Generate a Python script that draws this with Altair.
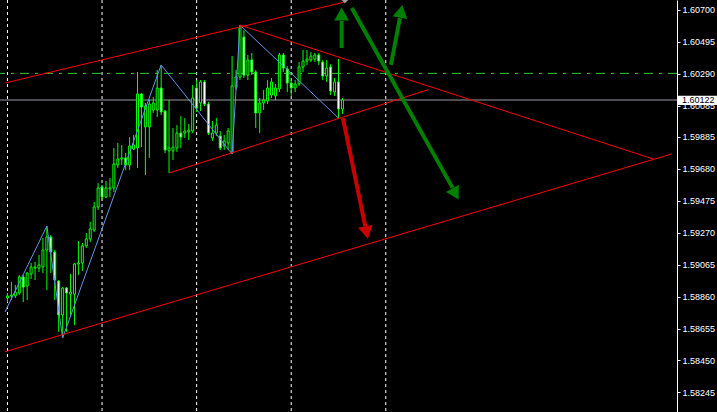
import altair as alt
import pandas as pd

# ---- hourly candles (bar index 0 = oldest) ----
open_ = [1.58851, 1.58864, 1.58864, 1.58883, 1.58986, 1.58928, 1.59005, 1.59043, 1.59043, 1.59050,
         1.59159, 1.59242, 1.59146, 1.58960, 1.58742, 1.58915, 1.58876, 1.58876, 1.59069, 1.59076,
         1.59185, 1.59230, 1.59287, 1.59435, 1.59563, 1.59499, 1.59551, 1.59557, 1.59705, 1.59743,
         1.59750, 1.59705, 1.59807, 1.59814, 1.60161, 1.59949, 1.59949, 1.60058, 1.60058, 1.60199,
         1.60051, 1.59795, 1.59795, 1.59814, 1.59910, 1.59910, 1.59917, 1.59923, 1.60199, 1.60103,
         1.60238, 1.60096, 1.59878, 1.59910, 1.59891, 1.59827, 1.59846, 1.59782, 1.60205, 1.60270,
         1.60526, 1.60282, 1.60379, 1.60302, 1.60039, 1.60103, 1.60116, 1.60154, 1.60148, 1.60193,
         1.60411, 1.60321, 1.60231, 1.60199, 1.60225, 1.60334, 1.60372, 1.60379, 1.60385, 1.60411,
         1.60366, 1.60276, 1.60334, 1.60173, 1.60238, 1.60064]
high = [1.58883, 1.58954, 1.58934, 1.58998, 1.58998, 1.59018, 1.59076, 1.59082, 1.59127, 1.59236,
        1.59313, 1.59255, 1.59159, 1.58966, 1.58921, 1.58921, 1.59005, 1.59076, 1.59217, 1.59204,
        1.59268, 1.59339, 1.59467, 1.59589, 1.59576, 1.59602, 1.59621, 1.59814, 1.59846, 1.59833,
        1.59782, 1.59884, 1.59897, 1.60302, 1.60167, 1.60103, 1.60122, 1.60141, 1.60315, 1.60347,
        1.60058, 1.60122, 1.59942, 1.59961, 1.60019, 1.60006, 1.59968, 1.60218, 1.60250, 1.60250,
        1.60250, 1.60109, 1.59987, 1.60006, 1.59923, 1.59897, 1.59942, 1.60404, 1.60315, 1.60603,
        1.60571, 1.60411, 1.60424, 1.60315, 1.60135, 1.60186, 1.60250, 1.60263, 1.60225, 1.60424,
        1.60424, 1.60340, 1.60250, 1.60250, 1.60366, 1.60443, 1.60443, 1.60430, 1.60424, 1.60424,
        1.60379, 1.60379, 1.60353, 1.60263, 1.60385, 1.60135]
low = [1.58825, 1.58838, 1.58851, 1.58870, 1.58825, 1.58838, 1.58973, 1.58966, 1.59018, 1.59011,
       1.58902, 1.59011, 1.58838, 1.58633, 1.58594, 1.58633, 1.58729, 1.58677, 1.58998, 1.59024,
       1.59172, 1.59210, 1.59275, 1.59416, 1.59480, 1.59493, 1.59499, 1.59531, 1.59685, 1.59705,
       1.59673, 1.59673, 1.59801, 1.59685, 1.59820, 1.59640, 1.59750, 1.60039, 1.60013, 1.60026,
       1.59782, 1.59653, 1.59737, 1.59788, 1.59814, 1.59878, 1.59865, 1.59910, 1.60045, 1.60051,
       1.60083, 1.59897, 1.59859, 1.59891, 1.59801, 1.59801, 1.59801, 1.59775, 1.60186, 1.60250,
       1.60263, 1.60250, 1.60282, 1.59942, 1.59910, 1.60058, 1.60096, 1.60135, 1.60122, 1.60173,
       1.60302, 1.60173, 1.60148, 1.60173, 1.60212, 1.60302, 1.60347, 1.60366, 1.60366, 1.60347,
       1.60250, 1.60238, 1.60154, 1.60148, 1.60006, 1.60032]
close = [1.58864, 1.58870, 1.58889, 1.58986, 1.58921, 1.59011, 1.59050, 1.59050, 1.59063, 1.59159,
         1.59242, 1.59146, 1.58966, 1.58742, 1.58915, 1.58883, 1.58889, 1.59069, 1.59076, 1.59185,
         1.59230, 1.59294, 1.59435, 1.59557, 1.59499, 1.59557, 1.59557, 1.59711, 1.59743, 1.59750,
         1.59705, 1.59827, 1.59833, 1.60161, 1.60077, 1.60083, 1.60096, 1.60103, 1.60199, 1.60045,
         1.59801, 1.59814, 1.59820, 1.59910, 1.59884, 1.59923, 1.59929, 1.60135, 1.60071, 1.60238,
         1.60096, 1.59910, 1.59910, 1.59961, 1.59814, 1.59859, 1.59923, 1.60212, 1.60270, 1.60591,
         1.60282, 1.60379, 1.60302, 1.60039, 1.60103, 1.60122, 1.60199, 1.60238, 1.60199, 1.60411,
         1.60327, 1.60231, 1.60199, 1.60225, 1.60334, 1.60372, 1.60385, 1.60404, 1.60411, 1.60372,
         1.60276, 1.60327, 1.60180, 1.60238, 1.60064, 1.60122]

# ---- price axis and reference levels ----
price_ticks = [1.60700, 1.60495, 1.60290, 1.60085, 1.59885, 1.59680, 1.59475,
               1.59270, 1.59065, 1.58860, 1.58655, 1.58450, 1.58245]
bid_price = 1.60122
bid_label = "1.60122"
level_price = 1.60293
day_separators = [0, 24, 48, 72, 96]

# ---- zigzag swing points ----
zigzag_bar = [-0.625, 10, 14, 39, 57, 59, 84]
zigzag_price = [1.58761, 1.59313, 1.58594, 1.60347, 1.59775, 1.60603, 1.60006]

# ---- trend lines (pairs of end points) ----
trend_id = ["chan_top", "chan_top", "chan_bottom", "chan_bottom",
            "tri_top", "tri_top", "tri_bottom", "tri_bottom"]
trend_bar = [-0.625, 85.625, -0.625, 168.625, 59, 163.95, 41, 106.875]
trend_price = [1.60231, 1.60751, 1.58506, 1.59776, 1.60603, 1.59743, 1.59653, 1.60189]
anchor_bar = [85.625]
anchor_price = [1.60764]

# ---- scenario arrows ----
arrow_color = ["#008000", "#008000", "#008000", "#c80000"]
shaft_bar0 = [84.8, 87.375, 97.3, 85.125]
shaft_price0 = [1.60456, 1.60713, 1.60347, 1.60006]
shaft_bar1 = [84.8, 112.95, 99.575, 90.8]
shaft_price1 = [1.60629, 1.59558, 1.60648, 1.59311]
head_bar = [84.8, 113.7, 99.9, 91.125]
head_price = [1.60674, 1.59519, 1.60691, 1.59271]
head_angle = [0, 150.5, 10.9, 168.3]

LIME = "#00ff00"

candles = pd.DataFrame({
    "bar": list(range(len(open_))),
    "open": open_, "high": high, "low": low, "close": close,
})
candles["fill"] = ["black" if c >= o else "white" for o, c in zip(open_, close)]

zig = pd.DataFrame({"bar": zigzag_bar, "price": zigzag_price, "order": range(len(zigzag_bar))})
trends = pd.DataFrame({"id": trend_id, "bar": trend_bar, "price": trend_price,
                       "order": range(len(trend_id))})
shafts = pd.DataFrame({"b0": shaft_bar0, "p0": shaft_price0, "b1": shaft_bar1,
                       "p1": shaft_price1, "color": arrow_color})
heads = pd.DataFrame({"bar": head_bar, "price": head_price, "angle": head_angle,
                      "color": arrow_color})

xscale = alt.Scale(domain=[-0.625, 168.625], nice=False, zero=False)
yscale = alt.Scale(domain=[1.58119, 1.60764], nice=False, zero=False)
yaxis = alt.Axis(orient="right", values=price_ticks, format=".5f", title=None, grid=False,
                 domainColor="white", tickColor="white", tickSize=3, labelColor="white",
                 labelFont="Liberation Sans", labelFontSize=9, labelPadding=2)


def X(field):
    return alt.X(field, type="quantitative", scale=xscale, axis=None)


def Y(field):
    return alt.Y(field, type="quantitative", scale=yscale, axis=yaxis)


separators = alt.Chart(pd.DataFrame({"bar": day_separators})).mark_rule(
    color="white", strokeDash=[3, 3], strokeWidth=1
).encode(x=X("bar"))

level = alt.Chart(pd.DataFrame({"price": [level_price]})).mark_rule(
    color="#32cd32", strokeDash=[9, 6, 3, 6], strokeWidth=1
).encode(y=Y("price"))

bid_line = alt.Chart(pd.DataFrame({"price": [bid_price]})).mark_rule(
    color="#9a9aa4", strokeWidth=1
).encode(y=Y("price"))

wicks = alt.Chart(candles).mark_rule(color=LIME, strokeWidth=1).encode(
    x=X("bar"), y=Y("low"), y2="high"
)

bodies = alt.Chart(candles).mark_bar(size=2, stroke=LIME, strokeWidth=1).encode(
    x=X("bar"), y=Y("open"), y2="close", fill=alt.Fill("fill:N", scale=None)
)

zigzag = alt.Chart(zig).mark_line(color="#6495ed", strokeWidth=1).encode(
    x=X("bar"), y=Y("price"), order="order:Q"
)

trend_lines = alt.Chart(trends).mark_line(color="#ff0000", strokeWidth=1).encode(
    x=X("bar"), y=Y("price"), detail="id:N", order="order:Q"
)

anchor = alt.Chart(pd.DataFrame({"bar": anchor_bar, "price": anchor_price})).mark_point(
    shape="diamond", filled=True, size=44, color="#a0a0a0", opacity=1, clip=True
).encode(x=X("bar"), y=Y("price"))

arrow_shafts = alt.Chart(shafts).mark_rule(strokeWidth=4, strokeCap="butt").encode(
    x=X("b0"), y=Y("p0"), x2="b1", y2="p1", color=alt.Color("color:N", scale=None)
)

arrow_heads = alt.Chart(heads).mark_point(
    shape="triangle-up", filled=True, size=220, strokeWidth=0, opacity=1
).encode(
    x=X("bar"), y=Y("price"), angle=alt.Angle("angle:Q", scale=None),
    color=alt.Color("color:N", scale=None)
)

bid_box = alt.Chart(pd.DataFrame({"top": [bid_price + 0.00028], "bottom": [bid_price - 0.00032]})).mark_rect(
    color="white"
).encode(x=alt.value(678), x2=alt.value(717), y=Y("top"), y2="bottom")

bid_text = alt.Chart(pd.DataFrame({"price": [bid_price], "label": [bid_label]})).mark_text(
    align="left", baseline="middle", color="black", font="Liberation Sans", fontSize=9
).encode(x=alt.value(682), y=Y("price"), text="label:N")

chart = alt.layer(
    separators, level, bid_line, wicks, bodies, zigzag, trend_lines, anchor,
    arrow_shafts, arrow_heads, bid_box, bid_text
).properties(
    width=677, height=412,
    padding={"left": 0, "top": 0, "right": 40, "bottom": 0},
    autosize=alt.AutoSizeParams(type="none"),
    background="black",
).configure_view(strokeWidth=0)

chart.save("out.html", embed_options={"renderer": "svg", "actions": False})
